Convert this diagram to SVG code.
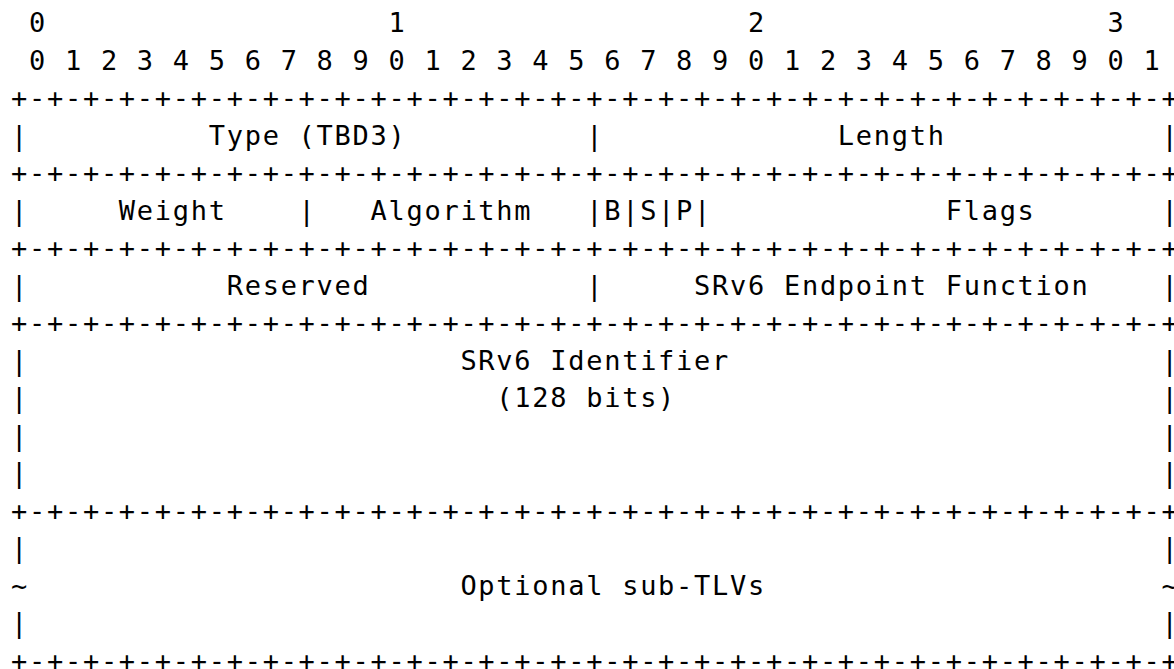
<svg xmlns="http://www.w3.org/2000/svg" width="1174" height="669" viewBox="0 0 1174 669">
<style>
text{font-family:"DejaVu Sans Mono","Liberation Mono",monospace;font-size:27px;letter-spacing:1.72px;fill:#000;white-space:pre}
</style>
<rect width="1174" height="669" fill="#fff"/>
<g id="bit-ruler">
<text x="11" y="32" xml:space="preserve"> 0                   1                   2                   3</text>
<text x="11" y="69.5" xml:space="preserve"> 0 1 2 3 4 5 6 7 8 9 0 1 2 3 4 5 6 7 8 9 0 1 2 3 4 5 6 7 8 9 0 1</text>
</g>
<g id="separators">
<text x="11" y="107" xml:space="preserve">+-+-+-+-+-+-+-+-+-+-+-+-+-+-+-+-+-+-+-+-+-+-+-+-+-+-+-+-+-+-+-+-+</text>
<text x="11" y="182" xml:space="preserve">+-+-+-+-+-+-+-+-+-+-+-+-+-+-+-+-+-+-+-+-+-+-+-+-+-+-+-+-+-+-+-+-+</text>
<text x="11" y="257" xml:space="preserve">+-+-+-+-+-+-+-+-+-+-+-+-+-+-+-+-+-+-+-+-+-+-+-+-+-+-+-+-+-+-+-+-+</text>
<text x="11" y="332" xml:space="preserve">+-+-+-+-+-+-+-+-+-+-+-+-+-+-+-+-+-+-+-+-+-+-+-+-+-+-+-+-+-+-+-+-+</text>
<text x="11" y="519.5" xml:space="preserve">+-+-+-+-+-+-+-+-+-+-+-+-+-+-+-+-+-+-+-+-+-+-+-+-+-+-+-+-+-+-+-+-+</text>
<text x="11" y="669.5" xml:space="preserve">+-+-+-+-+-+-+-+-+-+-+-+-+-+-+-+-+-+-+-+-+-+-+-+-+-+-+-+-+-+-+-+-+</text>
</g>
<g id="row-type-length">
<text x="11" y="144.5" xml:space="preserve">|          Type (TBD3)          |             Length            |</text>
</g>
<g id="row-weight-algorithm-flags">
<text x="11" y="219.5" xml:space="preserve">|     Weight    |   Algorithm   |B|S|P|             Flags       |</text>
</g>
<g id="row-reserved-function">
<text x="11" y="294.5" xml:space="preserve">|           Reserved            |     SRv6 Endpoint Function    |</text>
</g>
<g id="row-identifier">
<text x="11" y="369.5" xml:space="preserve">|                        SRv6 Identifier                        |</text>
<text x="11" y="407" xml:space="preserve">|                          (128 bits)                           |</text>
<text x="11" y="444.5" xml:space="preserve">|                                                               |</text>
<text x="11" y="482" xml:space="preserve">|                                                               |</text>
</g>
<g id="row-sub-tlvs">
<text x="11" y="557" xml:space="preserve">|                                                               |</text>
<text x="11" y="594.5" xml:space="preserve">~                        Optional sub-TLVs                      ~</text>
<text x="11" y="632" xml:space="preserve">|                                                               |</text>
</g>
</svg>
